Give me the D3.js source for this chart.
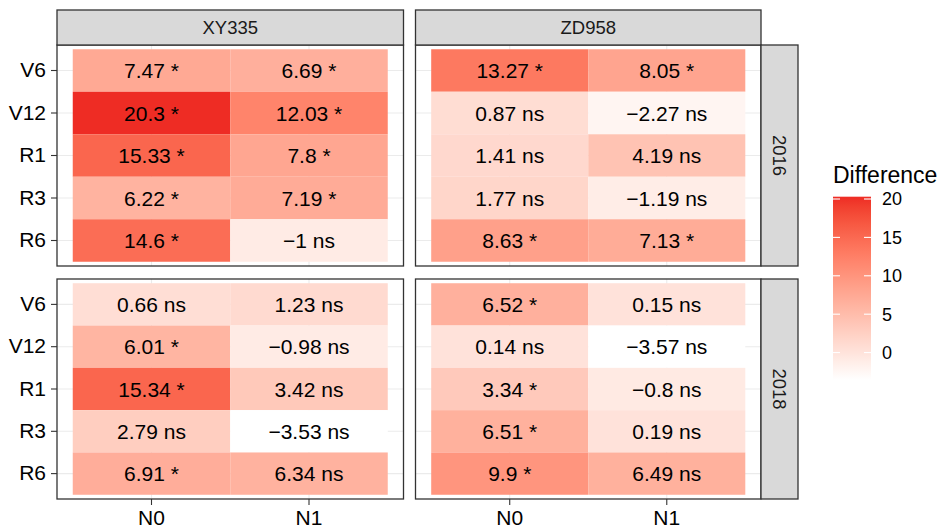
<!DOCTYPE html>
<html>
<head>
<meta charset="utf-8">
<script src="https://cdn.jsdelivr.net/npm/d3@7"></script>
<style>
  html, body { margin: 0; padding: 0; background: #fff; }
  svg { display: block; font-family: "Liberation Sans", Arial, sans-serif; }
</style>
</head>
<body>
<svg id="chart" width="946" height="529"></svg>
<script>
// Facet levels and axis categories
const hybrids = ["XY335", "ZD958"];
const years = ["2016", "2018"];
const stages = ["V6", "V12", "R1", "R3", "R6"];
const nRates = ["N0", "N1"];

// Yield difference by stage (V6, V12, R1, R3, R6) for each hybrid / year / N rate
const xy335_2016_N0 = [7.47, 20.3, 15.33, 6.22, 14.6];
const xy335_2016_N1 = [6.69, 12.03, 7.8, 7.19, -1];
const zd958_2016_N0 = [13.27, 0.87, 1.41, 1.77, 8.63];
const zd958_2016_N1 = [8.05, -2.27, 4.19, -1.19, 7.13];
const xy335_2018_N0 = [0.66, 6.01, 15.34, 2.79, 6.91];
const xy335_2018_N1 = [1.23, -0.98, 3.42, -3.53, 6.34];
const zd958_2018_N0 = [6.52, 0.14, 3.34, 6.51, 9.9];
const zd958_2018_N1 = [0.15, -3.57, -0.8, 0.19, 6.49];

// Significance flags in the same order
const xy335_2016_N0_sig = ["*", "*", "*", "*", "*"];
const xy335_2016_N1_sig = ["*", "*", "*", "*", "ns"];
const zd958_2016_N0_sig = ["*", "ns", "ns", "ns", "*"];
const zd958_2016_N1_sig = ["*", "ns", "ns", "ns", "*"];
const xy335_2018_N0_sig = ["ns", "*", "*", "ns", "*"];
const xy335_2018_N1_sig = ["ns", "ns", "ns", "ns", "ns"];
const zd958_2018_N0_sig = ["*", "ns", "*", "*", "*"];
const zd958_2018_N1_sig = ["ns", "ns", "ns", "ns", "ns"];

// Legend ticks
const legendTicks = [0, 5, 10, 15, 20];

const series = {
  "XY335|2016": [[xy335_2016_N0, xy335_2016_N0_sig], [xy335_2016_N1, xy335_2016_N1_sig]],
  "ZD958|2016": [[zd958_2016_N0, zd958_2016_N0_sig], [zd958_2016_N1, zd958_2016_N1_sig]],
  "XY335|2018": [[xy335_2018_N0, xy335_2018_N0_sig], [xy335_2018_N1, xy335_2018_N1_sig]],
  "ZD958|2018": [[zd958_2018_N0, zd958_2018_N0_sig], [zd958_2018_N1, zd958_2018_N1_sig]]
};

const cells = [];
years.forEach(yr => hybrids.forEach(h => {
  series[h + "|" + yr].forEach(([vals, sigs], j) => {
    vals.forEach((v, i) => cells.push({ hybrid: h, year: yr, n: nRates[j], stage: stages[i], value: v, sig: sigs[i] }));
  });
}));

const fmt = v => String(v).replace("-", "\u2212");

const svg = d3.select("#chart");
svg.append("rect").attr("width", 946).attr("height", 529).attr("fill", "#fff");

// Panel geometry
const colX = [[57, 403.5], [415.5, 761]];
const rowY = [[45, 266], [279, 499]];
const stripTop = 10, stripRightW = 37;
const border = "#333333";
const fontAxis = 21, fontStrip = 18.5, fontCell = 21;

const extent = d3.extent(cells, d => d.value);
const color = d3.scaleLinear().domain(extent).range(["#ffffff", "#EE2C24"]).interpolate(d3.interpolateLab);

years.forEach((yr, r) => {
  hybrids.forEach((h, c) => {
    const [x0, x1] = colX[c], [y0, y1] = rowY[r];
    const x = d3.scaleBand().domain(nRates).range([x0, x1]).paddingInner(0).paddingOuter(0.1);
    const y = d3.scaleBand().domain(stages).range([y0, y1]).paddingInner(0).paddingOuter(0.1);
    const g = svg.append("g");

    // background and grid
    g.append("rect").attr("x", x0).attr("y", y0).attr("width", x1 - x0).attr("height", y1 - y0).attr("fill", "#fff");
    g.selectAll("line.gx").data(nRates).join("line")
      .attr("x1", d => x(d) + x.bandwidth() / 2).attr("x2", d => x(d) + x.bandwidth() / 2)
      .attr("y1", y0).attr("y2", y1).attr("stroke", "#EBEBEB").attr("stroke-width", 1.1);
    g.selectAll("line.gy").data(stages).join("line")
      .attr("y1", d => y(d) + y.bandwidth() / 2).attr("y2", d => y(d) + y.bandwidth() / 2)
      .attr("x1", x0).attr("x2", x1).attr("stroke", "#EBEBEB").attr("stroke-width", 1.1);

    const pd = cells.filter(d => d.hybrid === h && d.year === yr);
    g.selectAll("rect.tile").data(pd).join("rect")
      .attr("x", d => x(d.n)).attr("y", d => y(d.stage))
      .attr("width", x.bandwidth()).attr("height", y.bandwidth())
      .attr("fill", d => color(d.value));
    g.selectAll("text.lab").data(pd).join("text")
      .attr("x", d => x(d.n) + x.bandwidth() / 2).attr("y", d => y(d.stage) + y.bandwidth() / 2)
      .attr("dy", "0.36em").attr("text-anchor", "middle")
      .attr("font-size", fontCell).attr("fill", "#000")
      .text(d => fmt(d.value) + " " + d.sig);

    g.append("rect").attr("x", x0).attr("y", y0).attr("width", x1 - x0).attr("height", y1 - y0)
      .attr("fill", "none").attr("stroke", border).attr("stroke-width", 1.3);

    // y axis on left column
    if (c === 0) {
      const ax = g.append("g").attr("transform", `translate(${x0},0)`)
        .call(d3.axisLeft(y).tickSize(6).tickPadding(5));
      ax.select(".domain").remove();
      ax.selectAll(".tick line").attr("stroke", border).attr("stroke-width", 1.1);
      ax.selectAll(".tick text").attr("font-size", fontAxis).attr("fill", "#000")
        .attr("font-family", "Liberation Sans, Arial, sans-serif");
    }
    // x axis on bottom row
    if (r === years.length - 1) {
      const ax = g.append("g").attr("transform", `translate(0,${y1})`)
        .call(d3.axisBottom(x).tickSize(6).tickPadding(5));
      ax.select(".domain").remove();
      ax.selectAll(".tick line").attr("stroke", border).attr("stroke-width", 1.1);
      ax.selectAll(".tick text").attr("font-size", fontAxis).attr("fill", "#000")
        .attr("font-family", "Liberation Sans, Arial, sans-serif");
    }
    // top strips
    if (r === 0) {
      g.append("rect").attr("x", x0).attr("y", stripTop).attr("width", x1 - x0).attr("height", y0 - stripTop)
        .attr("fill", "#D9D9D9").attr("stroke", border).attr("stroke-width", 1.3);
      g.append("text").attr("x", (x0 + x1) / 2).attr("y", (stripTop + y0) / 2).attr("dy", "0.36em")
        .attr("text-anchor", "middle").attr("font-size", fontStrip).attr("fill", "#1A1A1A").text(h);
    }
    // right strips
    if (c === hybrids.length - 1) {
      g.append("rect").attr("x", x1).attr("y", y0).attr("width", stripRightW).attr("height", y1 - y0)
        .attr("fill", "#D9D9D9").attr("stroke", border).attr("stroke-width", 1.3);
      const cx = x1 + stripRightW / 2, cy = (y0 + y1) / 2;
      g.append("text").attr("transform", `translate(${cx},${cy}) rotate(90)`).attr("dy", "0.36em")
        .attr("text-anchor", "middle").attr("font-size", fontStrip).attr("fill", "#1A1A1A").text(yr);
    }
  });
});

// Colour bar legend
const lgX = 833, lgW = 38, lgTop = 196.7, lgBot = 380;
const ly = d3.scaleLinear().domain(extent).range([lgBot, lgTop]);
const defs = svg.append("defs");
const grad = defs.append("linearGradient").attr("id", "diffGrad")
  .attr("x1", 0).attr("y1", 1).attr("x2", 0).attr("y2", 0);
d3.range(0, 1.0001, 0.05).forEach(t => {
  grad.append("stop").attr("offset", t).attr("stop-color", color(extent[0] + t * (extent[1] - extent[0])));
});
const lg = svg.append("g");
lg.append("text").attr("x", lgX).attr("y", 183).attr("font-size", 23).attr("fill", "#000").text("Difference");
lg.append("rect").attr("x", lgX).attr("y", lgTop).attr("width", lgW).attr("height", lgBot - lgTop).attr("fill", "url(#diffGrad)");
lg.selectAll("line.tl").data(legendTicks).join("line")
  .attr("x1", lgX).attr("x2", lgX + 7).attr("y1", d => ly(d)).attr("y2", d => ly(d))
  .attr("stroke", "#fff").attr("stroke-width", 1.1);
lg.selectAll("line.tr").data(legendTicks).join("line")
  .attr("x1", lgX + lgW - 7).attr("x2", lgX + lgW).attr("y1", d => ly(d)).attr("y2", d => ly(d))
  .attr("stroke", "#fff").attr("stroke-width", 1.1);
lg.selectAll("text.tk").data(legendTicks).join("text")
  .attr("x", 882).attr("y", d => ly(d)).attr("dy", "0.36em")
  .attr("font-size", 18).attr("fill", "#000").text(d => d);
</script>
</body>
</html>
